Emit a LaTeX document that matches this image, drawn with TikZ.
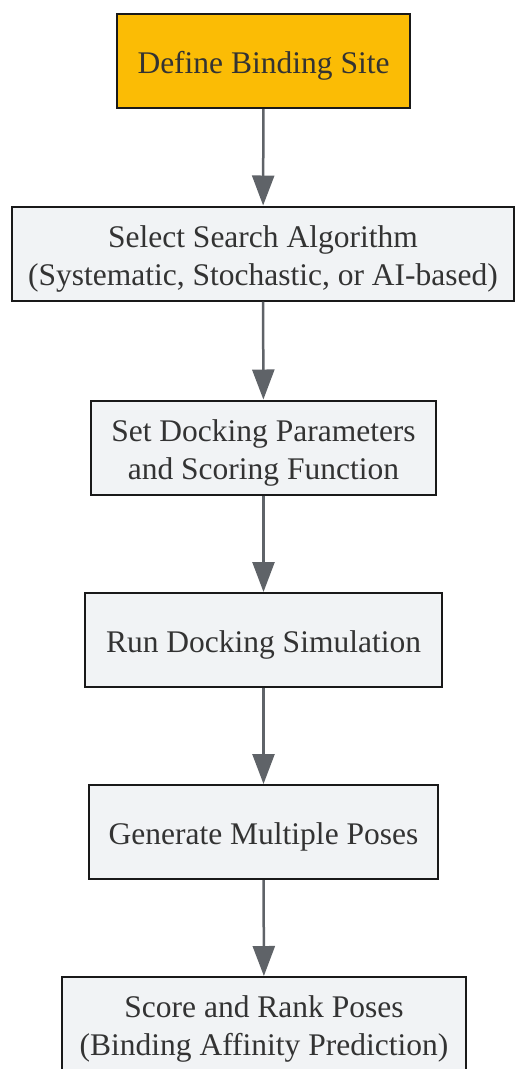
\documentclass[tikz,border=0pt]{standalone}
\usepackage{fontspec}
\setmainfont{Liberation Serif}
\usetikzlibrary{arrows.meta}
\definecolor{orangefill}{HTML}{FBBC05}
\definecolor{boxfill}{HTML}{F1F3F5}
\definecolor{arrowgray}{HTML}{5F6368}
\definecolor{txt}{HTML}{333333}
\begin{document}
\begin{tikzpicture}[x=1pt,y=-1pt,
  box/.style={draw=black!90, line width=2pt, fill=boxfill, inner sep=0pt, minimum height=94pt},
  boxtext/.style={text=txt, align=center, font=\fontsize{31.5}{38}\selectfont, inner sep=0pt, yshift=-5pt},
  flow/.style={draw=arrowgray, line width=2.5pt, -{Triangle[length=30pt,width=22pt]}}]
\useasboundingbox (0,0) rectangle (516,1069);
\node[box, fill=orangefill, minimum width=293pt, label={[boxtext]center:Define Binding Site}] (a) at (263.5,61) {};
\node[box, minimum width=502pt, label={[boxtext]center:{Select Search Algorithm\\(Systematic, Stochastic, or AI-based)}}] (b) at (263,253.5) {};
\node[box, minimum width=345pt, label={[boxtext]center:{Set Docking Parameters\\and Scoring Function}}] (c) at (263.5,447.5) {};
\node[box, minimum width=357pt, label={[boxtext]center:Run Docking Simulation}] (d) at (263.5,640) {};
\node[box, minimum width=349pt, label={[boxtext]center:Generate Multiple Poses}] (e) at (263.5,832) {};
\node[box, minimum width=404pt, label={[boxtext]center:{Score and Rank Poses\\(Binding Affinity Prediction)}}] (f) at (264,1024) {};
\draw[flow] (a) -- (b);
\draw[flow] (b) -- (c);
\draw[flow] (c) -- (d);
\draw[flow] (d) -- (e);
\draw[flow] (e) -- (f);
\end{tikzpicture}
\end{document}
